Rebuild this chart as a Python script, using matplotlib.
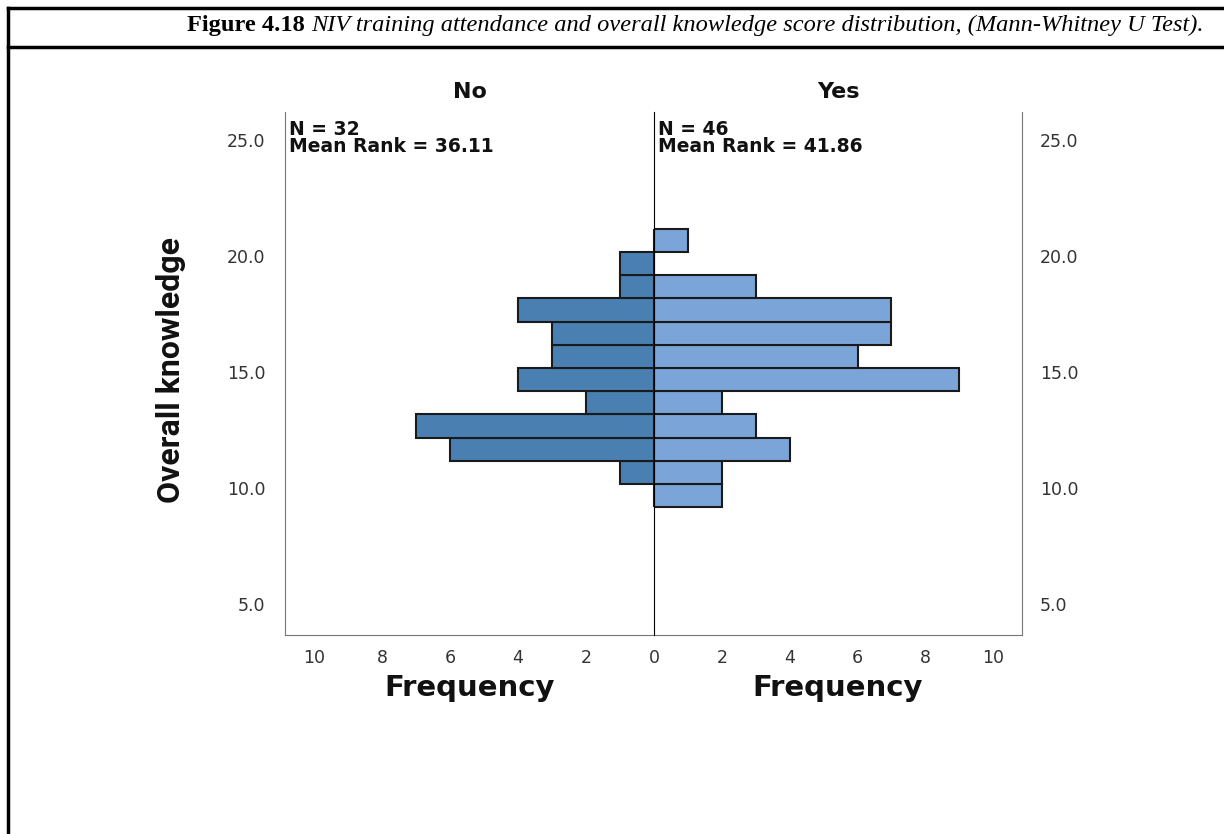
import matplotlib.pyplot as plt
from matplotlib.lines import Line2D

# histogram bins (lower edges) and counts
bin_lows = [9.17, 10.17, 11.17, 12.17, 13.17, 14.17, 15.17, 16.17, 17.17, 18.17, 19.17, 20.17]
counts_no = [0, 1, 6, 7, 2, 4, 3, 3, 4, 1, 1, 0]
counts_yes = [2, 2, 4, 3, 2, 9, 6, 7, 7, 3, 0, 1]
groups = ['No', 'Yes']
n_text = ['N = 32\nMean Rank = 36.11', 'N = 46\nMean Rank = 41.86']
y_ticks = [5.0, 10.0, 15.0, 20.0, 25.0]
x_ticks = [0, 2, 4, 6, 8, 10]

col_no = '#4a80b1'
col_yes = '#7ba5d8'
txt = '#333333'

W, H = 1224, 834
fig = plt.figure(figsize=(W / 100, H / 100), dpi=100)

# outer table frame
fig.add_artist(Line2D([8 / W, 8 / W], [0, 1 - 8 / H], color='black', lw=2.5))
fig.add_artist(Line2D([8 / W, 1], [1 - 8 / H, 1 - 8 / H], color='black', lw=2.5))
fig.add_artist(Line2D([8 / W, 1], [1 - 47 / H, 1 - 47 / H], color='black', lw=2.5))

title_bold = 'Figure 4.18 '
title_rest = 'NIV training attendance and overall knowledge score distribution, (Mann-Whitney U Test).'
tb = fig.text(187 / W, 1 - 25 / H, title_bold, family='Liberation Serif', weight='bold',
              fontsize=17.6, ha='left', va='center')
fig.canvas.draw()
bb = tb.get_window_extent()
fig.text(bb.x1 / W, 1 - 25 / H, title_rest, family='Liberation Serif', style='italic',
         fontsize=17.6, ha='left', va='center')

bottom = 1 - 635 / H
height = (635 - 112) / H
ax_l = fig.add_axes([285 / W, bottom, 369 / W, height])
ax_r = fig.add_axes([654 / W, bottom, 368 / W, height])

ax_l.barh(bin_lows, counts_no, height=1.0, align='edge', color=col_no,
          edgecolor='#1a1a1a', linewidth=1.5)
ax_r.barh(bin_lows, counts_yes, height=1.0, align='edge', color=col_yes,
          edgecolor='#1a1a1a', linewidth=1.5)

for ax in (ax_l, ax_r):
    ax.set_ylim(3.66, 26.2)
    ax.set_xlim(0, 10.85)
    ax.spines['top'].set_visible(False)
    ax.set_xticks(x_ticks)
    ax.tick_params(length=0, labelsize=12.5, labelcolor=txt, pad=10)
    ax.set_yticks(y_ticks)
    ax.set_yticklabels([f'{v:.1f}' for v in y_ticks])
    ax.spines['bottom'].set_color('#777777')
    ax.patch.set_alpha(0)

ax_l.invert_xaxis()
ax_l.spines['left'].set_color('#777777')
ax_l.spines['right'].set_visible(False)
ax_r.spines['left'].set_color('black')
ax_r.spines['left'].set_zorder(5)
ax_r.spines['right'].set_color('#777777')
ax_r.yaxis.tick_right()
ax_r.tick_params(axis='y', labelright=True, labelleft=False, pad=13)
ax_l.tick_params(axis='y', pad=14)
ax_r.set_xticks(x_ticks[1:])

for ax, g in zip((ax_l, ax_r), groups):
    ax.set_xlabel('Frequency', fontsize=21, weight='bold', labelpad=5, color='#111111')
    ax.set_title(g, fontsize=16, weight='bold', pad=10, color='#111111')

ax_l.text(0.01, 0.985, n_text[0], transform=ax_l.transAxes, ha='left', va='top',
          fontsize=13.5, weight='bold', linespacing=0.85, color='#111111')
ax_r.text(0.01, 0.985, n_text[1], transform=ax_r.transAxes, ha='left', va='top',
          fontsize=13.5, weight='bold', linespacing=0.85, color='#111111')

fig.text(171 / W, 1 - 370 / H, 'Overall knowledge', rotation=90, ha='center', va='center',
         family=['Roboto', 'DejaVu Sans'], weight='bold', fontsize=23, color='#111111')

fig.savefig('out.png', dpi=100)
